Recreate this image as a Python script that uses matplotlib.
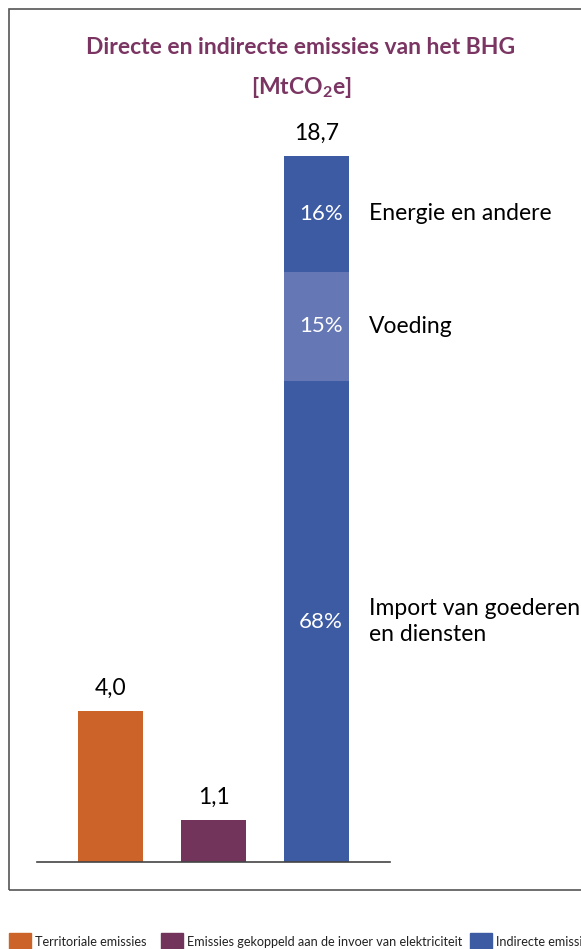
import matplotlib.pyplot as plt
from matplotlib.patches import Rectangle

plt.rcParams['font.family'] = ['Lato', 'DejaVu Sans']
plt.rcParams['mathtext.fontset'] = 'custom'
plt.rcParams['mathtext.rm'] = 'Lato'
plt.rcParams['mathtext.bf'] = 'Lato:bold'

# data
categories = ['Territoriale emissies',
              'Emissies gekoppeld aan de invoer van elektriciteit',
              'Indirecte emissies']
totals = [4.0, 1.1, 18.7]
total_labels = ['4,0', '1,1', '18,7']
bar_colors = ['#CC6328', '#72345B', '#3D5BA3']

# indirect emissions split (bottom to top)
seg_names = ['Import van goederen\nen diensten', 'Voeding', 'Energie en andere']
seg_values = [12.74, 2.89, 3.07]
seg_pct = ['68%', '15%', '16%']
seg_colors = ['#3D5BA3', '#6577B5', '#3D5BA3']

fig = plt.figure(figsize=(5.81, 9.49), dpi=100)
ax = fig.add_axes([37/581, 87/949, 353/581, 706/949])

x = [0, 1, 2]
w = 0.631
ax.bar(x[:2], totals[:2], width=w, color=bar_colors[:2])

bottom = 0
for v, c, p, n in zip(seg_values, seg_colors, seg_pct, seg_names):
    ax.bar(x[2], v, width=w, bottom=bottom, color=c)
    ax.text(x[2] + 0.04, bottom + v/2, p, color='white', fontsize=16,
            ha='center', va='center')
    ax.text(2.51, bottom + v/2, n, color='black', fontsize=16.5,
            ha='left', va='center', clip_on=False, linespacing=1.25)
    bottom += v

for xi, t, lab in zip(x, totals, total_labels):
    ax.annotate(lab, (xi, t), xytext=(0, 9), textcoords='offset points',
                ha='center', va='bottom', fontsize=16.5, color='black',
                annotation_clip=False)

ax.set_xlim(-0.7136, 2.7136)
ax.set_ylim(0, 18.7)
for s in ['top', 'right', 'left']:
    ax.spines[s].set_visible(False)
ax.spines['bottom'].set_color('#444444')
ax.spines['bottom'].set_linewidth(1.2)
ax.set_xticks([])
ax.set_yticks([])

# title
fig.text(301/581, 1 - 48/949, 'Directe en indirecte emissies van het BHG',
         ha='center', va='center', fontsize=16.5, fontweight='bold', color='#7A3562')
fig.text(301/581, 1 - 88/949, r'[MtCO$_{\mathbf{2}}$e]',
         ha='center', va='center', fontsize=16.5, fontweight='bold', color='#7A3562')

# frame
fig.add_artist(Rectangle((9/581, 59/949), 1.2, 881/949, transform=fig.transFigure,
                         fill=False, edgecolor='#555555', linewidth=1.2))

# legend
leg_x = [9, 161, 470]
for lx, c, name in zip(leg_x, bar_colors, categories):
    fig.add_artist(Rectangle((lx/581, -2/949), 22/581, 18/949,
                             transform=fig.transFigure, color=c))
    fig.text((lx + 26)/581, 1/949, name, fontsize=9.1, ha='left', va='bottom',
             color='#222222')

fig.savefig('out.png', dpi=100)
